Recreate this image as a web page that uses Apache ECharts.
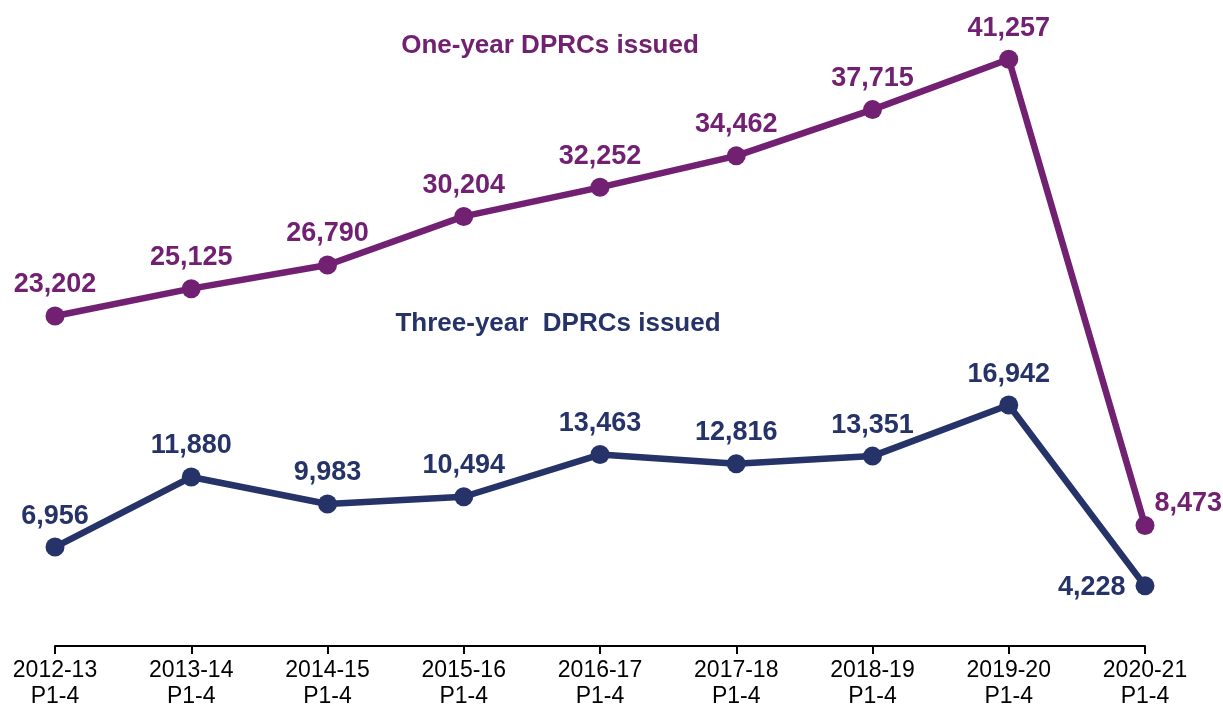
<!DOCTYPE html>
<html><head><meta charset="utf-8">
<script src="https://cdn.jsdelivr.net/npm/echarts@6/dist/echarts.min.js"></script>
<style>html,body{margin:0;padding:0;background:#fff}#c{width:1223px;height:710px}</style>
</head><body><div id="c"></div>
<script>
const categories = ['2012-13\nP1-4','2013-14\nP1-4','2014-15\nP1-4','2015-16\nP1-4','2016-17\nP1-4','2017-18\nP1-4','2018-19\nP1-4','2019-20\nP1-4','2020-21\nP1-4'];
const oneYear = [23202, 25125, 26790, 30204, 32252, 34462, 37715, 41257, 8473];
const threeYear = [6956, 11880, 9983, 10494, 13463, 12816, 13351, 16942, 4228];
const seriesNames = ['One-year DPRCs issued', 'Three-year  DPRCs issued'];
const purple = '#722072';
const navy = '#253368';
const font = 'Liberation Sans, Arial, sans-serif';
const fmt = p => p.value.toLocaleString('en-US');
const chart = echarts.init(document.getElementById('c'));
function mkData(arr, lastPos, lastOffset, lastDist) {
  return arr.map((v, i) => i === arr.length - 1
    ? {value: v, label: {position: lastPos, offset: lastOffset, distance: lastDist}}
    : v);
}
chart.setOption({
  animation: false,
  grid: {left: 55, right: 78, top: 6, bottom: 64},
  xAxis: {
    type: 'category', data: categories, boundaryGap: false,
    axisLine: {lineStyle: {color: '#000', width: 2}},
    axisTick: {show: true, length: 8, lineStyle: {color: '#000', width: 2}},
    axisLabel: {color: '#000', fontFamily: font, fontSize: 23, lineHeight: 26, margin: 12}
  },
  yAxis: {type: 'value', min: 0, max: 45000, show: false, splitLine: {show: false}},
  graphic: [
    {type: 'text', x: 550, y: 46, style: {text: seriesNames[0], fill: purple, font: 'bold 26px ' + font, textAlign: 'center', textVerticalAlign: 'middle'}},
    {type: 'text', x: 558, y: 324, style: {text: seriesNames[1], fill: navy, font: 'bold 26px ' + font, textAlign: 'center', textVerticalAlign: 'middle'}}
  ],
  series: [
    {
      name: seriesNames[0], type: 'line', data: mkData(oneYear, 'right', [0, -22], 0),
      symbol: 'circle', symbolSize: 19,
      lineStyle: {color: purple, width: 6.5}, itemStyle: {color: purple},
      label: {show: true, position: 'top', distance: 8, color: purple, fontFamily: font, fontWeight: 'bold', fontSize: 27, formatter: fmt}
    },
    {
      name: seriesNames[1], type: 'line', data: mkData(threeYear, 'left', [0, 2], 10),
      symbol: 'circle', symbolSize: 19,
      lineStyle: {color: navy, width: 6.5}, itemStyle: {color: navy},
      label: {show: true, position: 'top', distance: 8, color: navy, fontFamily: font, fontWeight: 'bold', fontSize: 27, formatter: fmt}
    }
  ]
});
</script></body></html>
